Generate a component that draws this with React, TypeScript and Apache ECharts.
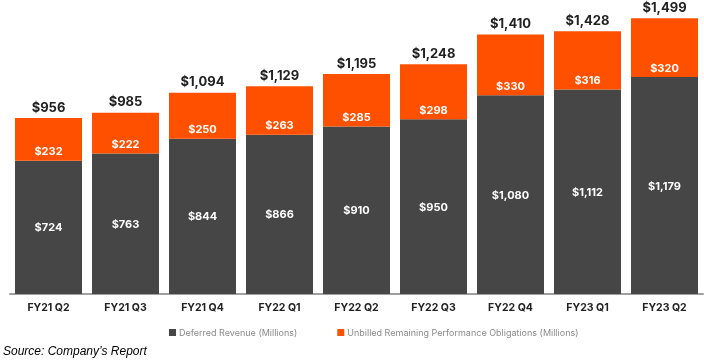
import React, { useEffect, useRef } from "react";
import * as echarts from "echarts";

const categories = ["FY21 Q2", "FY21 Q3", "FY21 Q4", "FY22 Q1", "FY22 Q2", "FY22 Q3", "FY22 Q4", "FY23 Q1", "FY23 Q2"];
const deferredRevenue = [724, 763, 844, 866, 910, 950, 1080, 1112, 1179];
const unbilledRPO = [232, 222, 250, 263, 285, 298, 330, 316, 320];
const totals = [956, 985, 1094, 1129, 1195, 1248, 1410, 1428, 1499];

const FONT = "Inter, 'Noto Sans', sans-serif";

export default function App() {
  const ref = useRef<HTMLDivElement>(null);
  useEffect(() => {
    if (!ref.current) return;
    const chart = echarts.init(ref.current, null, { renderer: "svg" });
    chart.setOption({
      animation: false,
      grid: { left: 10, right: 1, top: 18, bottom: 70, containLabel: false },
      legend: {
        data: ["Deferred Revenue (Millions)", "Unbilled Remaining Performance Obligations (Millions)"],
        left: 164,
        top: 323,
        itemWidth: 7,
        itemHeight: 7,
        itemGap: 40,
        icon: "rect",
        textStyle: { fontFamily: FONT, fontSize: 9, color: "#8a8a8a", padding: [0, 0, 0, -2] },
      },
      xAxis: {
        type: "category",
        data: categories,
        axisLine: { lineStyle: { color: "#a0a0a0", width: 2 } },
        axisTick: { show: false },
        axisLabel: { fontFamily: FONT, fontSize: 10.5, fontWeight: "bold", color: "#222", margin: 8 },
      },
      yAxis: {
        type: "value",
        min: 0,
        max: 1500,
        show: false,
        splitLine: { show: false },
      },
      series: [
        {
          name: "Deferred Revenue (Millions)",
          type: "bar",
          stack: "a",
          data: deferredRevenue,
          barWidth: 67,
          itemStyle: { color: "#464646" },
          label: {
            show: true,
            position: "inside",
            formatter: (p: any) => "$" + p.value.toLocaleString("en-US"),
            fontFamily: FONT,
            fontSize: 11,
            fontWeight: "bold",
            color: "#fff",
          },
        },
        {
          name: "Unbilled Remaining Performance Obligations (Millions)",
          type: "bar",
          stack: "a",
          data: unbilledRPO,
          barWidth: 67,
          itemStyle: { color: "#FF5000" },
          label: {
            show: true,
            position: "insideBottom",
            distance: 4,
            formatter: (p: any) => "$" + p.value.toLocaleString("en-US"),
            fontFamily: FONT,
            fontSize: 11,
            fontWeight: "bold",
            color: "#fff",
          },
        },
        {
          name: "Total",
          type: "bar",
          data: totals,
          barWidth: 67,
          barGap: "-100%",
          itemStyle: { color: "rgba(0,0,0,0)" },
          z: 0,
          label: {
            show: true,
            position: "top",
            distance: 5,
            formatter: (p: any) => "$" + p.value.toLocaleString("en-US"),
            fontFamily: FONT,
            fontSize: 13,
            fontWeight: "bold",
            color: "#222",
          },
        },
      ],
      graphic: [
        {
          type: "text",
          left: 3,
          top: 345,
          style: {
            text: "Source: Company\u2019s Report",
            font: "italic 12px 'Liberation Sans', sans-serif",
            fill: "#000",
          },
        },
      ],
    });
    return () => chart.dispose();
  }, []);
  return <div ref={ref} style={{ position: "fixed", left: 0, top: 0, width: 704, height: 364 }} />;
}
